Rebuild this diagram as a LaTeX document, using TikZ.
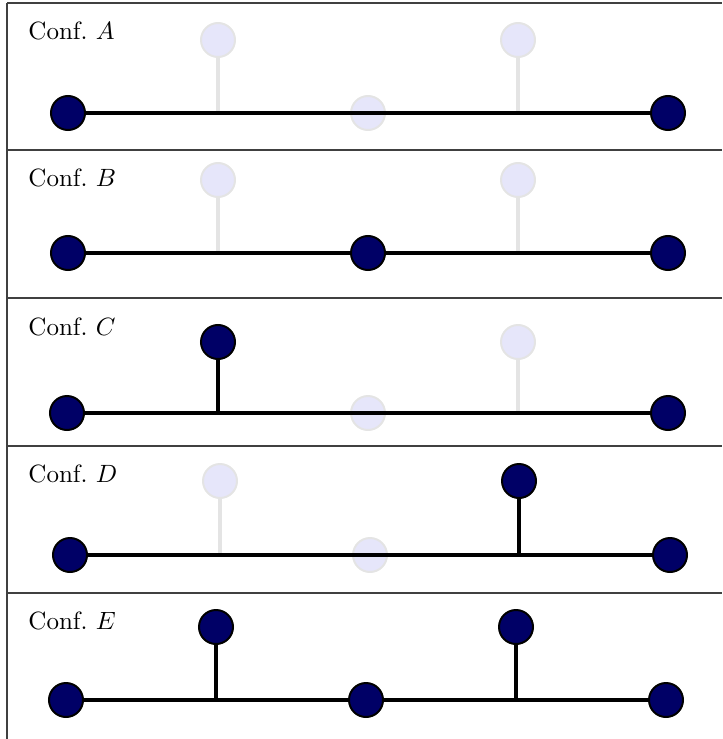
\documentclass[tikz,border=0pt]{standalone}
\usetikzlibrary{calc}
\definecolor{navy}{RGB}{0,0,102}
\definecolor{ghostfill}{RGB}{230,230,250}
\definecolor{ghostline}{RGB}{228,228,228}
\tikzset{
  frameline/.style={line width=0.6pt, draw=black!75},
  site/.style={circle, inner sep=0pt, minimum size=13.6pt, line width=0.8pt, draw=black, fill=navy},
  ghost/.style={circle, inner sep=0pt, minimum size=13.6pt, line width=0.8pt, draw=ghostline, fill=ghostfill},
  bond/.style={line width=1.7pt, draw=black},
  ghoststem/.style={line width=1.3pt, draw=ghostline},
  conflabel/.style={anchor=base west, inner sep=0pt, font=\normalsize}
}
\begin{document}
\begin{tikzpicture}[x=0.4pt, y=-0.4pt]
\useasboundingbox (0,0) rectangle (722,739);

% frame: left rule, top rule and separators between the rows
\draw[frameline] (7,3) -- (7,739);
\draw[frameline] (7,3) -- (722,3);
\draw[frameline] (7,150) -- (722,150);
\draw[frameline] (7,298) -- (722,298);
\draw[frameline] (7,446) -- (722,446);
\draw[frameline] (7,593) -- (722,593);

% ---------- Conf. A ----------
\node[conflabel] (labA) at (28,40) {Conf.\ $A$};
\node[ghost] (A2) at (218,40) {};
\node[ghost] (A4) at (518,40) {};
\node[ghost] (A3) at (368,113) {};
\node[site] (A1) at (68,113) {};
\node[site] (A5) at (668,113) {};
\coordinate (Ab2) at (218,113);
\coordinate (Ab4) at (518,113);
\draw[ghoststem] (A2) -- (Ab2);
\draw[ghoststem] (A4) -- (Ab4);
\draw[bond] (A1) -- (A5);

% ---------- Conf. B ----------
\node[conflabel] (labB) at (28,187) {Conf.\ $B$};
\node[ghost] (B2) at (218,180) {};
\node[ghost] (B4) at (518,180) {};
\node[site] (B1) at (68,253) {};
\node[site] (B3) at (368,253) {};
\node[site] (B5) at (668,253) {};
\coordinate (Bb2) at (218,253);
\coordinate (Bb4) at (518,253);
\draw[ghoststem] (B2) -- (Bb2);
\draw[ghoststem] (B4) -- (Bb4);
\draw[bond] (B1) -- (B3);
\draw[bond] (B3) -- (B5);

% ---------- Conf. C ----------
\node[conflabel] (labC) at (28,335) {Conf.\ $C$};
\node[site] (C2) at (218,342) {};
\node[ghost] (C4) at (518,342) {};
\node[ghost] (C3) at (368,413) {};
\node[site] (C1) at (67,413) {};
\node[site] (C5) at (668,413) {};
\coordinate (Cb2) at (218,413);
\coordinate (Cb4) at (518,413);
\draw[ghoststem] (C4) -- (Cb4);
\draw[bond] (C1) -- (C5);
\draw[bond] (C2) -- (Cb2);

% ---------- Conf. D ----------
\node[conflabel] (labD) at (28,482) {Conf.\ $D$};
\node[ghost] (D2) at (220,481) {};
\node[site] (D4) at (519,481) {};
\node[ghost] (D3) at (370,555) {};
\node[site] (D1) at (70,555) {};
\node[site] (D5) at (670,555) {};
\coordinate (Db2) at (220,555);
\coordinate (Db4) at (519,555);
\draw[ghoststem] (D2) -- (Db2);
\draw[bond] (D1) -- (D5);
\draw[bond] (D4) -- (Db4);

% ---------- Conf. E ----------
\node[conflabel] (labE) at (28,629) {Conf.\ $E$};
\node[site] (E2) at (216,627) {};
\node[site] (E4) at (516,627) {};
\node[site] (E1) at (66,700) {};
\node[site] (E3) at (366,700) {};
\node[site] (E5) at (666,700) {};
\coordinate (Eb2) at (216,700);
\coordinate (Eb4) at (516,700);
\draw[bond] (E1) -- (E3);
\draw[bond] (E3) -- (E5);
\draw[bond] (E2) -- (Eb2);
\draw[bond] (E4) -- (Eb4);
\end{tikzpicture}
\end{document}
